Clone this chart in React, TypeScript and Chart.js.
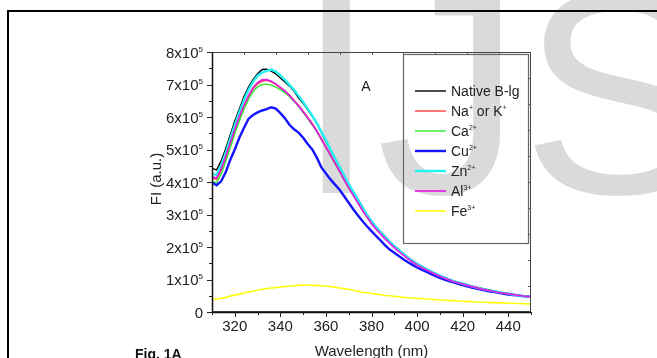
import React, { useEffect, useRef } from "react";
import { Chart, registerables } from "chart.js";

Chart.register(...registerables);

// ---------- data (intensity in units of 10^5) ----------
const wavelengths = [
  310, 312, 314, 316, 318, 320, 322, 324, 326, 328, 330, 332, 334, 336, 338, 340, 342, 344, 346, 348,
  350, 352, 354, 356, 358, 360, 362, 364, 366, 368, 370, 372, 374, 376, 378, 380, 382, 384, 386, 388,
  390, 392, 394, 396, 398, 400, 402, 404, 406, 408, 410, 412, 414, 416, 418, 420, 422, 424, 426, 428,
  430, 432, 434, 436, 438, 440, 442, 444, 446, 448, 450,
];

const nativeBlg = [
  4.42, 4.37, 4.65, 5.02, 5.45, 5.88, 6.25, 6.62, 6.92, 7.15, 7.33, 7.46, 7.47, 7.41, 7.33, 7.2, 7.08, 6.95, 6.8, 6.58,
  6.42, 6.22, 6.02, 5.8, 5.52, 5.25, 4.98, 4.72, 4.47, 4.2, 3.92, 3.7, 3.48, 3.24, 3.0, 2.8, 2.62, 2.47, 2.32, 2.17,
  2.04, 1.92, 1.8, 1.68, 1.58, 1.49, 1.41, 1.33, 1.26, 1.19, 1.12, 1.07, 1.01, 0.96, 0.92, 0.88, 0.83, 0.8, 0.76, 0.73,
  0.7, 0.67, 0.64, 0.62, 0.59, 0.57, 0.54, 0.52, 0.5, 0.48, 0.47,
];

const naK = [
  4.12, 4.08, 4.35, 4.72, 5.15, 5.57, 5.96, 6.32, 6.62, 6.86, 7.02, 7.1, 7.13, 7.08, 7.0, 6.9, 6.8, 6.68, 6.52, 6.36,
  6.18, 5.99, 5.8, 5.58, 5.34, 5.09, 4.84, 4.59, 4.34, 4.08, 3.83, 3.6, 3.37, 3.14, 2.92, 2.73, 2.56, 2.41, 2.26, 2.12,
  1.99, 1.87, 1.76, 1.65, 1.55, 1.46, 1.38, 1.3, 1.23, 1.17, 1.11, 1.05, 1.0, 0.95, 0.9, 0.86, 0.82, 0.78, 0.75, 0.72,
  0.69, 0.66, 0.63, 0.61, 0.58, 0.56, 0.54, 0.52, 0.5, 0.48, 0.46,
];

const ca = [
  4.02, 3.98, 4.24, 4.62, 5.05, 5.48, 5.88, 6.24, 6.54, 6.78, 6.93, 7.0, 7.01, 6.98, 6.92, 6.84, 6.75, 6.63, 6.48, 6.32,
  6.14, 5.95, 5.75, 5.54, 5.3, 5.06, 4.81, 4.56, 4.31, 4.06, 3.82, 3.59, 3.36, 3.14, 2.93, 2.74, 2.57, 2.42, 2.27, 2.13,
  2.0, 1.88, 1.77, 1.66, 1.56, 1.47, 1.39, 1.31, 1.24, 1.17, 1.11, 1.05, 1.0, 0.95, 0.91, 0.87, 0.83, 0.79, 0.76, 0.72,
  0.69, 0.67, 0.64, 0.61, 0.59, 0.56, 0.54, 0.52, 0.5, 0.48, 0.46,
];

const cu = [
  3.98, 3.9, 4.02, 4.3, 4.68, 5.0, 5.36, 5.66, 5.94, 6.06, 6.14, 6.2, 6.24, 6.3, 6.26, 6.12, 5.96, 5.76, 5.62, 5.52,
  5.36, 5.17, 5.0, 4.75, 4.45, 4.26, 4.08, 3.92, 3.76, 3.56, 3.36, 3.16, 2.98, 2.8, 2.64, 2.49, 2.34, 2.2, 2.05, 1.92,
  1.82, 1.72, 1.62, 1.53, 1.45, 1.37, 1.3, 1.24, 1.17, 1.11, 1.05, 1.0, 0.95, 0.91, 0.87, 0.83, 0.79, 0.75, 0.72, 0.69,
  0.66, 0.63, 0.61, 0.59, 0.56, 0.54, 0.52, 0.51, 0.49, 0.48, 0.47,
];

const zn = [
  4.25, 4.22, 4.52, 4.9, 5.33, 5.76, 6.15, 6.52, 6.84, 7.08, 7.27, 7.37, 7.42, 7.46, 7.4, 7.28, 7.14, 6.99, 6.84, 6.65,
  6.46, 6.25, 6.04, 5.81, 5.55, 5.28, 5.0, 4.73, 4.47, 4.2, 3.94, 3.7, 3.46, 3.22, 2.99, 2.79, 2.61, 2.45, 2.3, 2.16,
  2.03, 1.9, 1.79, 1.67, 1.57, 1.48, 1.4, 1.32, 1.25, 1.18, 1.12, 1.06, 1.0, 0.95, 0.91, 0.87, 0.83, 0.79, 0.75, 0.72,
  0.69, 0.66, 0.64, 0.61, 0.59, 0.56, 0.54, 0.52, 0.5, 0.48, 0.47,
];

const al = [
  4.16, 4.12, 4.4, 4.78, 5.2, 5.62, 6.01, 6.36, 6.66, 6.9, 7.06, 7.14, 7.15, 7.1, 7.02, 6.91, 6.8, 6.66, 6.5, 6.34,
  6.16, 5.98, 5.78, 5.56, 5.32, 5.07, 4.82, 4.58, 4.33, 4.07, 3.82, 3.59, 3.36, 3.13, 2.92, 2.72, 2.55, 2.4, 2.25, 2.11,
  1.98, 1.86, 1.75, 1.64, 1.54, 1.45, 1.37, 1.3, 1.23, 1.16, 1.1, 1.04, 0.99, 0.94, 0.9, 0.86, 0.82, 0.78, 0.75, 0.71,
  0.68, 0.66, 0.63, 0.6, 0.58, 0.56, 0.54, 0.52, 0.5, 0.48, 0.47,
];

const fe = [
  0.37, 0.4, 0.42, 0.45, 0.49, 0.52, 0.55, 0.58, 0.62, 0.64, 0.67, 0.7, 0.72, 0.74, 0.75, 0.77, 0.78, 0.8, 0.81, 0.82,
  0.83, 0.83, 0.82, 0.82, 0.81, 0.8, 0.78, 0.76, 0.74, 0.72, 0.7, 0.67, 0.64, 0.61, 0.59, 0.57, 0.55, 0.53, 0.51, 0.5,
  0.48, 0.47, 0.45, 0.44, 0.43, 0.42, 0.41, 0.4, 0.39, 0.38, 0.37, 0.36, 0.35, 0.35, 0.34, 0.33, 0.32, 0.32, 0.31, 0.3,
  0.3, 0.29, 0.29, 0.28, 0.28, 0.27, 0.27, 0.26, 0.26, 0.25, 0.25,
];

const seriesLabels = ["Native B-lg", "Na^{+} or K^{+}", "Ca^{2+}", "Cu^{2+}", "Zn^{2+}", "Al^{3+}", "Fe^{3+}"];
const seriesValues = [nativeBlg, naK, ca, cu, zn, al, fe];
const seriesColors = ["#000000", "#ff3b3b", "#2de82d", "#1414ff", "#22f2f2", "#e31ee3", "#ffff10"];
const seriesWidths = [1.4, 1.4, 1.4, 2.4, 2.4, 1.7, 1.6];

const xTickValues = [320, 340, 360, 380, 400, 420, 440];
const xMinorValues = [310, 330, 350, 370, 390, 410, 430, 450];
const yTickValues = [0, 1, 2, 3, 4, 5, 6, 7, 8];
const yTickLabels = ["0", "1x10^{5}", "2x10^{5}", "3x10^{5}", "4x10^{5}", "5x10^{5}", "6x10^{5}", "7x10^{5}", "8x10^{5}"];
const yMinorValues = [0.5, 1.5, 2.5, 3.5, 4.5, 5.5, 6.5, 7.5];
const xTitle = "Wavelength (nm)";
const yTitle = "FI (a.u.)";
const panelLabel = "A";
const figCaption = "Fig. 1A";
const watermark = "IJS";

const FONT = '"Liberation Sans", Arial, Helvetica, sans-serif';

type Seg = { t: string; sup: boolean };
function parseRich(s: string): Seg[] {
  const out: Seg[] = [];
  const re = /\^\{([^}]*)\}/g;
  let last = 0;
  let m: RegExpExecArray | null;
  while ((m = re.exec(s))) {
    if (m.index > last) out.push({ t: s.slice(last, m.index), sup: false });
    out.push({ t: m[1], sup: true });
    last = m.index + m[0].length;
  }
  if (last < s.length) out.push({ t: s.slice(last), sup: false });
  return out;
}

function drawRich(
  ctx: CanvasRenderingContext2D,
  s: string,
  x: number,
  y: number,
  size: number,
  supSize: number,
  rise: number,
  align: "left" | "right" | "center"
) {
  const segs = parseRich(s);
  const fontFor = (sup: boolean) => `${sup ? supSize : size}px ${FONT}`;
  let total = 0;
  for (const sg of segs) {
    ctx.font = fontFor(sg.sup);
    total += ctx.measureText(sg.t).width;
  }
  let cx = align === "left" ? x : align === "right" ? x - total : x - total / 2;
  ctx.textAlign = "left";
  ctx.textBaseline = "alphabetic";
  for (const sg of segs) {
    ctx.font = fontFor(sg.sup);
    ctx.fillText(sg.t, cx, sg.sup ? y - rise : y);
    cx += ctx.measureText(sg.t).width;
  }
}

const decorPlugin = {
  id: "decor",
  beforeDraw(chart: any) {
    const ctx: CanvasRenderingContext2D = chart.ctx;
    ctx.save();
    ctx.fillStyle = "#ffffff";
    ctx.fillRect(0, 0, chart.width, chart.height);
    // watermark
    ctx.fillStyle = "#dadada";
    ctx.font = `290px ${FONT}`;
    ctx.textAlign = "left";
    ctx.textBaseline = "alphabetic";
    ctx.fillText(watermark, 296, 193);
    // outer frame
    ctx.strokeStyle = "#000";
    ctx.lineWidth = 2;
    ctx.beginPath();
    ctx.moveTo(8, chart.height + 2);
    ctx.lineTo(8, 11);
    ctx.lineTo(chart.width + 2, 11);
    ctx.stroke();
    // caption
    ctx.fillStyle = "#111";
    ctx.font = `bold 14px ${FONT}`;
    ctx.fillText(figCaption, 135, 359);
    ctx.restore();
  },
  afterDatasetsDraw(chart: any) {
    const ctx: CanvasRenderingContext2D = chart.ctx;
    const xs = chart.scales.x;
    const ys = chart.scales.y;
    const { left, right, top, bottom } = chart.chartArea;
    ctx.save();
    // plot frame
    ctx.strokeStyle = "#444";
    ctx.lineWidth = 1;
    ctx.strokeRect(left + 0.5, top + 0.5, right - left - 1, bottom - top - 1);
    ctx.strokeStyle = "#111";
    ctx.lineWidth = 1.5;
    ctx.beginPath();
    ctx.moveTo(left + 0.5, top);
    ctx.lineTo(left + 0.5, bottom + 0.5);
    ctx.lineTo(right, bottom + 0.5);
    ctx.stroke();

    // ticks
    ctx.lineWidth = 1;
    ctx.strokeStyle = "#222";
    ctx.beginPath();
    for (const v of xTickValues) {
      const px = Math.round(xs.getPixelForValue(v)) + 0.5;
      ctx.moveTo(px, bottom);
      ctx.lineTo(px, bottom + 5);
    }
    for (const v of xMinorValues) {
      const px = Math.round(xs.getPixelForValue(v)) + 0.5;
      ctx.moveTo(px, bottom);
      ctx.lineTo(px, bottom + 3);
    }
    for (const v of yTickValues) {
      const py = Math.round(ys.getPixelForValue(v)) + 0.5;
      ctx.moveTo(left, py);
      ctx.lineTo(left - 5, py);
    }
    for (const v of yMinorValues) {
      const py = Math.round(ys.getPixelForValue(v)) + 0.5;
      ctx.moveTo(left, py);
      ctx.lineTo(left - 3, py);
    }
    ctx.stroke();
    ctx.strokeStyle = "#555";
    ctx.beginPath();
    for (let k = 1; k < 10; k++) {
      const px = Math.round(xs.getPixelForValue(310 + k * 14)) + 0.5;
      ctx.moveTo(px, top);
      ctx.lineTo(px, top + 3);
      const py = Math.round(ys.getPixelForValue(k * 0.8)) + 0.5;
      ctx.moveTo(right, py);
      ctx.lineTo(right - 3, py);
    }
    ctx.stroke();

    // tick labels
    ctx.fillStyle = "#222";
    ctx.font = `15px ${FONT}`;
    ctx.textAlign = "center";
    ctx.textBaseline = "alphabetic";
    for (const v of xTickValues) {
      ctx.fillText(String(v), xs.getPixelForValue(v), bottom + 19);
    }
    yTickValues.forEach((v, i) => {
      drawRich(ctx, yTickLabels[i], left - 9, ys.getPixelForValue(v) + 5.5, 15, 8, 6, "right");
    });

    // axis titles
    ctx.font = `15px ${FONT}`;
    ctx.textAlign = "center";
    ctx.fillText(xTitle, (left + right) / 2, bottom + 44);
    ctx.save();
    ctx.translate(161, (top + bottom) / 2 - 3);
    ctx.rotate(-Math.PI / 2);
    ctx.fillText(yTitle, 0, 0);
    ctx.restore();

    // panel label
    ctx.font = `14px ${FONT}`;
    ctx.fillText(panelLabel, 366, 91);

    // legend
    ctx.strokeStyle = "#666";
    ctx.lineWidth = 1.2;
    ctx.strokeRect(403.5, 54.5, 125, 189);
    seriesLabels.forEach((lab, i) => {
      const yy = 91 + i * 20;
      ctx.strokeStyle = seriesColors[i];
      ctx.lineWidth = seriesWidths[i];
      ctx.beginPath();
      ctx.moveTo(415, yy);
      ctx.lineTo(446, yy);
      ctx.stroke();
      ctx.fillStyle = "#222";
      drawRich(ctx, lab, 451, yy + 5, 14, 7, 6, "left");
    });
    ctx.restore();
  },
};

export default function App() {
  const ref = useRef<HTMLCanvasElement | null>(null);
  useEffect(() => {
    if (!ref.current) return;
    const datasets = seriesValues.map((vals, i) => ({
      label: seriesLabels[i],
      data: wavelengths.map((w, j) => ({ x: w, y: vals[j] })),
      borderColor: seriesColors[i],
      borderWidth: seriesWidths[i],
      pointRadius: 0,
      tension: 0,
      fill: false,
      order: seriesValues.length - i,
    }));
    const chart = new Chart(ref.current, {
      type: "line",
      data: { datasets },
      options: {
        animation: false,
        responsive: false,
        devicePixelRatio: 1,
        layout: { padding: { left: 212, top: 52, right: 126, bottom: 46 } },
        plugins: { legend: { display: false }, tooltip: { enabled: false } },
        scales: {
          x: { type: "linear", min: 310, max: 450, display: false },
          y: { type: "linear", min: 0, max: 8, display: false },
        },
      },
      plugins: [decorPlugin],
    });
    return () => chart.destroy();
  }, []);
  return (
    <div style={{ position: "fixed", left: 0, top: 0, width: 657, height: 358, background: "#fff" }}>
      <canvas ref={ref} width={657} height={358} style={{ display: "block" }} />
    </div>
  );
}
